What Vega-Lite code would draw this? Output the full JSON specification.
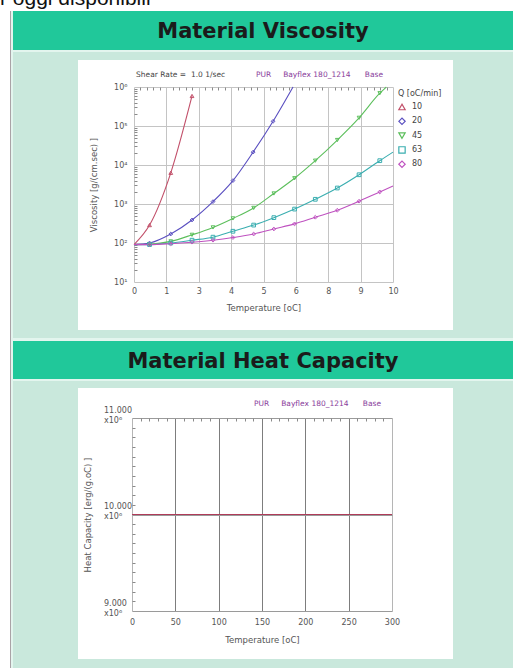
{
  "$schema": "https://vega.github.io/schema/vega-lite/v6.json",
  "background": "#c9e8dc",
  "padding": 0,
  "spacing": 0,
  "config": {
    "view": {"stroke": null},
    "font": "DejaVu Sans",
    "concat": {"spacing": 0},
    "axis": {"labelFont": "DejaVu Sans", "titleFont": "DejaVu Sans", "labelFontSize": 8, "titleFontSize": 8.5, "titleFontWeight": "normal", "labelColor": "#555555", "titleColor": "#555555", "labelOverlap": false, "labelFlush": false, "tickColor": "#8a8a8a"},
    "legend": {"labelFont": "DejaVu Sans", "titleFont": "DejaVu Sans"}
  },
  "vconcat": [
    {
      "width": 513, "height": 11,
      "view": {"fill": "white"},
      "data": {"values": [{"t": "r oggi disponibili"}]},
      "mark": {"type": "text", "align": "left", "baseline": "alphabetic", "font": "Liberation Sans", "fontSize": 21, "color": "#111111", "dy": -0.5, "clip": true},
      "encoding": {"text": {"field": "t"}, "x": {"datum": 0, "scale": {"domain": [0, 1]}, "axis": null}}
    },
    {
      "spacing": 0,
      "hconcat": [
        {"width": 10, "height": 657, "view": {"fill": "white"}, "data": {"values": []}, "mark": "point"},
        {"width": 1, "height": 657, "view": {"fill": "#aaa3a7"}, "data": {"values": []}, "mark": "point"},
        {"width": 2, "height": 657, "view": {"fill": "#e3f5ee"}, "data": {"values": []}, "mark": "point"},
        {
          "spacing": 0,
          "vconcat": [
            {
              "width": 500, "height": 39,
              "view": {"fill": "#20c89a"},
              "data": {"values": [{"h": "Material Viscosity"}]},
              "mark": {"type": "text", "fontSize": 21, "fontWeight": "bold", "color": "#1b1b1b", "font": "DejaVu Sans", "dy": 1},
              "encoding": {"text": {"field": "h"}}
            },
            {"width": 500, "height": 2, "view": {"fill": "#e3f5ee"}, "data": {"values": []}, "mark": "point"},
            {"width": 500, "height": 8, "data": {"values": []}, "mark": "point"},
            {
              "spacing": 0,
              "bounds": "flush",
              "hconcat": [
                {"width": 65, "height": 270, "data": {"values": []}, "mark": "point"},
                {
                  "width": 375, "height": 270,
                  "view": {"fill": "white"},
                  "data": {"values": [
                    {"Q": "10", "T": 0, "V": 91}, {"Q": "10", "T": 0.6, "V": 288}, {"Q": "10", "T": 1.42, "V": 6310}, {"Q": "10", "T": 2.24, "V": 589000},
                    {"Q": "20", "T": 0, "V": 91}, {"Q": "20", "T": 0.6, "V": 100}, {"Q": "20", "T": 1.42, "V": 170}, {"Q": "20", "T": 2.24, "V": 389}, {"Q": "20", "T": 3.05, "V": 1150}, {"Q": "20", "T": 3.82, "V": 3980}, {"Q": "20", "T": 4.6, "V": 21400}, {"Q": "20", "T": 5.37, "V": 132000}, {"Q": "20", "T": 6.14, "V": 1000000},
                    {"Q": "45", "T": 0, "V": 91}, {"Q": "45", "T": 0.6, "V": 93}, {"Q": "45", "T": 1.42, "V": 110}, {"Q": "45", "T": 2.24, "V": 162}, {"Q": "45", "T": 3.05, "V": 251}, {"Q": "45", "T": 3.82, "V": 427}, {"Q": "45", "T": 4.62, "V": 794}, {"Q": "45", "T": 5.4, "V": 1860}, {"Q": "45", "T": 6.2, "V": 4570}, {"Q": "45", "T": 7.0, "V": 12900}, {"Q": "45", "T": 7.85, "V": 43700}, {"Q": "45", "T": 8.69, "V": 162000}, {"Q": "45", "T": 9.49, "V": 692000}, {"Q": "45", "T": 9.74, "V": 1000000},
                    {"Q": "63", "T": 0, "V": 91}, {"Q": "63", "T": 0.6, "V": 91}, {"Q": "63", "T": 1.42, "V": 100}, {"Q": "63", "T": 2.24, "V": 118}, {"Q": "63", "T": 3.05, "V": 141}, {"Q": "63", "T": 3.82, "V": 200}, {"Q": "63", "T": 4.62, "V": 288}, {"Q": "63", "T": 5.4, "V": 447}, {"Q": "63", "T": 6.2, "V": 741}, {"Q": "63", "T": 7.0, "V": 1320}, {"Q": "63", "T": 7.85, "V": 2570}, {"Q": "63", "T": 8.69, "V": 5620}, {"Q": "63", "T": 9.49, "V": 12900}, {"Q": "63", "T": 10, "V": 21400},
                    {"Q": "80", "T": 0, "V": 91}, {"Q": "80", "T": 0.6, "V": 91}, {"Q": "80", "T": 1.42, "V": 96}, {"Q": "80", "T": 2.24, "V": 105}, {"Q": "80", "T": 3.05, "V": 118}, {"Q": "80", "T": 3.82, "V": 138}, {"Q": "80", "T": 4.62, "V": 170}, {"Q": "80", "T": 5.4, "V": 229}, {"Q": "80", "T": 6.2, "V": 309}, {"Q": "80", "T": 7.0, "V": 457}, {"Q": "80", "T": 7.85, "V": 692}, {"Q": "80", "T": 8.69, "V": 1180}, {"Q": "80", "T": 9.49, "V": 2040}, {"Q": "80", "T": 10, "V": 2880}
                  ]},
                  "layer": [
                    {
                      "mark": {"type": "line", "interpolate": "monotone", "strokeWidth": 1.1},
                      "encoding": {
                        "x": {"field": "T", "type": "quantitative", "scale": {"domain": [0, 10], "range": [56, 315]},
                              "axis": {"orient": "bottom", "offset": -48, "values": [0, 1.25, 2.5, 3.75, 5, 6.25, 7.5, 8.75, 10], "format": ".0f", "grid": false, "domain": false, "ticks": false, "labelPadding": 5, "title": "Temperature [oC]", "titlePadding": 8}},
                        "y": {"field": "V", "type": "quantitative", "scale": {"type": "log", "domain": [10, 1000000], "range": [222, 27]},
                              "axis": {"orient": "left", "offset": -56, "values": [10, 100, 1000, 10000, 100000, 1000000], "labelExpr": "'10' + ['⁰','¹','²','³','⁴','⁵','⁶'][round(log(datum.value)/LN10)]", "grid": true, "gridColor": "#c4c4c4", "domain": false, "ticks": false, "labelPadding": 7, "title": "Viscosity [g/(cm.sec) ]", "titlePadding": 15}},
                        "color": {"field": "Q", "type": "nominal", "scale": {"domain": ["10", "20", "45", "63", "80"], "range": ["#c2506a", "#5a4fc0", "#5cbf5c", "#3aaeb0", "#bf52c0"]},
                                  "legend": {"title": "Q [oC/min]", "orient": "none", "legendX": 398, "legendY": 90, "titleFontSize": 8, "titleFontWeight": "normal", "titleColor": "#444444", "labelFontSize": 8, "labelColor": "#444444", "labelOffset": 6, "symbolSize": 40, "symbolStrokeWidth": 1.2, "rowPadding": 2.3, "titlePadding": 5}}
                      }
                    },
                    {
                      "transform": [{"filter": "datum.T > 0 && datum.T < 10 && datum.V < 999000"}],
                      "mark": {"type": "point", "filled": false, "size": 14, "strokeWidth": 1, "opacity": 1},
                      "encoding": {
                        "x": {"field": "T", "type": "quantitative", "axis": {"orient": "top", "values": [0, 1.25, 2.5, 3.75, 5, 6.25, 7.5, 8.75, 10], "grid": true, "gridColor": "#c4c4c4", "labels": false, "ticks": false, "domain": false, "title": null}},
                        "y": {"field": "V", "type": "quantitative",
                              "axis": {"orient": "left", "offset": -56, "values": [20, 30, 40, 50, 60, 70, 80, 90, 200, 300, 400, 500, 600, 700, 800, 900, 2000, 3000, 4000, 5000, 6000, 7000, 8000, 9000, 20000, 30000, 40000, 50000, 60000, 70000, 80000, 90000, 200000, 300000, 400000, 500000, 600000, 700000, 800000, 900000], "labels": false, "grid": false, "domain": false, "ticks": true, "tickSize": -3, "title": null}},
                        "color": {"field": "Q", "type": "nominal", "legend": {"title": "Q [oC/min]", "orient": "none", "legendX": 398, "legendY": 90, "titleFontSize": 8, "titleFontWeight": "normal", "titleColor": "#444444", "labelFontSize": 8, "labelColor": "#444444", "labelOffset": 6, "symbolSize": 40, "symbolStrokeWidth": 1.2, "rowPadding": 2.3, "titlePadding": 5}},
                        "shape": {"field": "Q", "type": "nominal", "scale": {"domain": ["10", "20", "45", "63", "80"], "range": ["triangle-up", "diamond", "triangle-down", "square", "diamond"]}, "legend": {"title": "Q [oC/min]", "orient": "none", "legendX": 398, "legendY": 90, "titleFontSize": 8, "titleFontWeight": "normal", "titleColor": "#444444", "labelFontSize": 8, "labelColor": "#444444", "labelOffset": 6, "symbolSize": 40, "symbolStrokeWidth": 1.2, "rowPadding": 2.3, "titlePadding": 5}}
                      }
                    },
                    {
                      "data": {"values": [{"note": "Shear Rate =\u00a0\u00a01.0 1/sec"}]},
                      "mark": {"type": "text", "align": "left", "baseline": "middle", "fontSize": 7.5, "color": "#444444"},
                      "encoding": {"text": {"field": "note"},
                        "x": {"datum": 0.08, "axis": {"orient": "top", "offset": -27, "values": [0.25, 0.5, 0.75, 1.0, 1.5, 1.75, 2.0, 2.25, 2.75, 3.0, 3.25, 3.5, 4.0, 4.25, 4.5, 4.75, 5.25, 5.5, 5.75, 6.0, 6.5, 6.75, 7.0, 7.25, 7.75, 8.0, 8.25, 8.5, 9.0, 9.25, 9.5, 9.75], "labels": false, "grid": false, "domain": false, "ticks": true, "tickSize": -3, "title": null}},
                        "y": {"datum": 2040000, "axis": null}}
                    },
                    {
                      "data": {"values": [{"note": "PUR\u00a0\u00a0\u00a0\u00a0\u00a0Bayflex 180_1214\u00a0\u00a0\u00a0\u00a0\u00a0\u00a0Base"}]},
                      "mark": {"type": "text", "align": "left", "baseline": "middle", "fontSize": 7.5, "color": "#8a3d9c"},
                      "encoding": {"text": {"field": "note"}, "x": {"datum": 4.71, "axis": null}, "y": {"datum": 2040000, "axis": null}}
                    }
                  ],
                  "resolve": {"axis": {"x": "independent", "y": "independent"}}
                }
              ]
            },
            {"width": 500, "height": 8, "data": {"values": []}, "mark": "point"},
            {"width": 500, "height": 3, "view": {"fill": "#e3f5ee"}, "data": {"values": []}, "mark": "point"},
            {
              "width": 500, "height": 38,
              "view": {"fill": "#20c89a"},
              "data": {"values": [{"h": "Material Heat Capacity"}]},
              "mark": {"type": "text", "fontSize": 21, "fontWeight": "bold", "color": "#1b1b1b", "font": "DejaVu Sans", "dy": 2},
              "encoding": {"text": {"field": "h"}}
            },
            {"width": 500, "height": 2, "view": {"fill": "#e3f5ee"}, "data": {"values": []}, "mark": "point"},
            {"width": 500, "height": 7, "data": {"values": []}, "mark": "point"},
            {
              "spacing": 0,
              "bounds": "flush",
              "hconcat": [
                {"width": 65, "height": 271, "data": {"values": []}, "mark": "point"},
                {
                  "width": 375, "height": 271,
                  "view": {"fill": "white"},
                  "data": {"values": [{"T": 0, "C": 10000000}, {"T": 300, "C": 10000000}]},
                  "layer": [
                    {
                      "mark": {"type": "line", "color": "#b03c5a", "strokeWidth": 1.2},
                      "encoding": {
                        "x": {"field": "T", "type": "quantitative", "scale": {"domain": [0, 300], "range": [54, 314]},
                              "axis": {"orient": "bottom", "offset": -48, "values": [0, 50, 100, 150, 200, 250, 300], "grid": false, "domain": false, "ticks": false, "labelPadding": 7, "title": "Temperature [oC]", "titlePadding": 9}},
                        "y": {"field": "C", "type": "quantitative", "scale": {"domain": [9000000, 11000000], "range": [223, 30]},
                              "axis": {"orient": "left", "offset": -54, "values": [9000000, 10000000, 11000000], "labelExpr": "[format(datum.value/1000000, '.3f'), 'x10⁶']", "labelAlign": "left", "labelPadding": 28.5, "labelOffset": -8, "grid": true, "gridColor": "#9a9a9a", "domain": false, "ticks": false, "title": "Heat Capacity [erg/(g.oC) ]", "titlePadding": 11}}
                      }
                    },
                    {
                      "data": {"values": [{"note": "PUR\u00a0\u00a0\u00a0\u00a0\u00a0Bayflex 180_1214\u00a0\u00a0\u00a0\u00a0\u00a0\u00a0Base"}]},
                      "mark": {"type": "text", "align": "left", "baseline": "middle", "fontSize": 7.5, "color": "#8a3d9c"},
                      "encoding": {
                        "text": {"field": "note"},
                        "x": {"datum": 140.8, "axis": {"orient": "top", "values": [0, 50, 100, 150, 200, 250, 300], "grid": true, "gridColor": {"condition": {"test": "datum.value == 0 || datum.value == 300", "value": "#b5b5b5"}, "value": "#7d7d7d"}, "labels": false, "ticks": false, "domain": false, "title": null}},
                        "y": {"datum": 11145000,
                              "axis": {"orient": "left", "offset": -54, "values": [9100000, 9200000, 9300000, 9400000, 9500000, 9600000, 9700000, 9800000, 9900000, 10100000, 10200000, 10300000, 10400000, 10500000, 10600000, 10700000, 10800000, 10900000], "labels": false, "grid": false, "domain": false, "ticks": true, "tickSize": -3, "title": null}}
                      }
                    },
                    {
                      "mark": {"type": "point", "opacity": 0},
                      "encoding": {
                        "x": {"field": "T", "type": "quantitative", "axis": {"orient": "top", "offset": -30, "values": [10, 20, 30, 40, 60, 70, 80, 90, 110, 120, 130, 140, 160, 170, 180, 190, 210, 220, 230, 240, 260, 270, 280, 290], "labels": false, "grid": false, "domain": false, "ticks": true, "tickSize": -3, "title": null}},
                        "y": {"field": "C", "type": "quantitative", "axis": null}
                      }
                    }
                  ],
                  "resolve": {"axis": {"x": "independent", "y": "independent"}}
                }
              ]
            },
            {"width": 500, "height": 9, "data": {"values": []}, "mark": "point"}
          ]
        }
      ]
    }
  ]
}
